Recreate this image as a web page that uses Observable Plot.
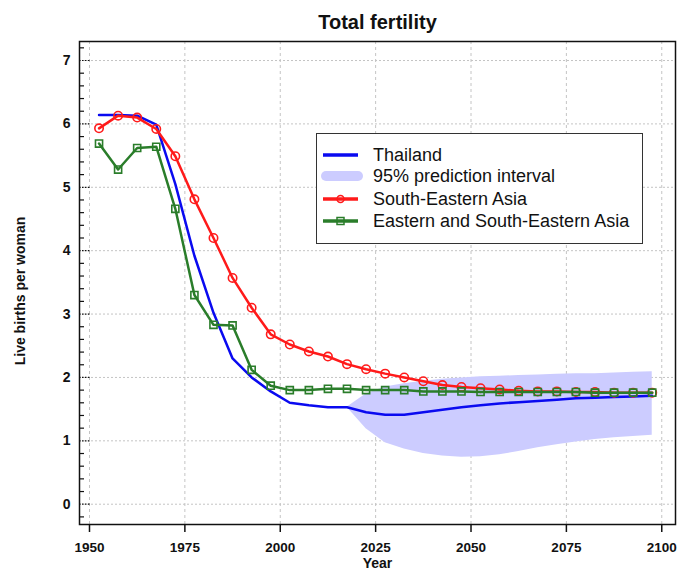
<!DOCTYPE html>
<html>
<head>
<meta charset="utf-8">
<script src="https://cdn.jsdelivr.net/npm/d3@7"></script>
<script src="https://cdn.jsdelivr.net/npm/@observablehq/plot@0.6"></script>
<style>
  html, body { margin: 0; padding: 0; background: #fff; }
  #wrap { position: relative; width: 677px; height: 571px; font-family: Arial, "Liberation Sans", sans-serif; }
  #legend { position: absolute; left: 316px; top: 133px; width: 327px; height: 111px; border: 1.5px solid #333; background: #fff; box-sizing: border-box; font-size: 18px; color: #111; }
  .row { position: absolute; left: 0; height: 20px; display: flex; align-items: center; }
  .row svg { margin-left: 4px; }
  .row span { position: absolute; left: 56px; white-space: nowrap; }
</style>
</head>
<body>
<div id="wrap"></div>
<script>
// ---- data ----
const years = [1952.5, 1957.5, 1962.5, 1967.5, 1972.5, 1977.5, 1982.5, 1987.5, 1992.5, 1997.5,
               2002.5, 2007.5, 2012.5, 2017.5, 2022.5, 2027.5, 2032.5, 2037.5, 2042.5, 2047.5,
               2052.5, 2057.5, 2062.5, 2067.5, 2072.5, 2077.5, 2082.5, 2087.5, 2092.5, 2097.5];
const thailand = [6.14, 6.14, 6.13, 5.99, 5.05, 3.92, 3.02, 2.30, 2.00, 1.78,
                  1.60, 1.56, 1.53, 1.53, 1.45, 1.41, 1.41, 1.45, 1.49, 1.53,
                  1.56, 1.59, 1.61, 1.63, 1.65, 1.67, 1.68, 1.69, 1.70, 1.71];
const seAsia = [5.93, 6.13, 6.10, 5.92, 5.49, 4.81, 4.20, 3.57, 3.10, 2.68,
                2.52, 2.41, 2.33, 2.21, 2.13, 2.06, 2.00, 1.94, 1.88, 1.85,
                1.83, 1.81, 1.79, 1.78, 1.78, 1.77, 1.77, 1.76, 1.76, 1.76];
const eseAsia = [5.69, 5.28, 5.62, 5.64, 4.66, 3.30, 2.83, 2.82, 2.12, 1.87,
                 1.80, 1.80, 1.82, 1.82, 1.80, 1.80, 1.80, 1.78, 1.78, 1.78,
                 1.77, 1.77, 1.77, 1.77, 1.77, 1.77, 1.76, 1.76, 1.76, 1.76];
const piYears = [2017.5, 2022.5, 2027.5, 2032.5, 2037.5, 2042.5, 2047.5, 2052.5, 2057.5,
                 2062.5, 2067.5, 2072.5, 2077.5, 2082.5, 2087.5, 2092.5, 2097.5];
const piLow  = [1.53, 1.19, 0.97, 0.87, 0.80, 0.76, 0.74, 0.75, 0.78,
                0.83, 0.89, 0.94, 0.98, 1.02, 1.05, 1.07, 1.09];
const piHigh = [1.53, 1.74, 1.85, 1.90, 1.94, 1.97, 1.99, 2.01, 2.02,
                2.03, 2.04, 2.05, 2.06, 2.06, 2.07, 2.08, 2.09];
const xTicks = [1950, 1975, 2000, 2025, 2050, 2075, 2100];
const yTicks = [0, 1, 2, 3, 4, 5, 6, 7];
const yMinor = [-0.2, 0.2, 0.4, 0.6, 0.8, 1.2, 1.4, 1.6, 1.8, 2.2, 2.4, 2.6, 2.8, 3.2, 3.4, 3.6, 3.8,
                4.2, 4.4, 4.6, 4.8, 5.2, 5.4, 5.6, 5.8, 6.2, 6.4, 6.6, 6.8, 7.2];
const seriesNames = ["Thailand", "95% prediction interval", "South-Eastern Asia", "Eastern and South-Eastern Asia"];
const titleText = "Total fertility";
const xLabel = "Year";
const yLabel = "Live births per woman";

// ---- tables ----
const rows = years.map((y, i) => ({year: y, th: thailand[i], se: seAsia[i], ese: eseAsia[i]}));
const band = piYears.map((y, i) => ({year: y, lo: piLow[i], hi: piHigh[i]}));

const BLUE = "#0a0af0", RED = "#ff1a1a", GREEN = "#2a7d2a", BAND = "#ccccff";
const W = 677, H = 571, ML = 79, MR = 2, MT = 41, MB = 47;
const innerW = W - ML - MR;

const chart = Plot.plot({
  width: W, height: H,
  marginLeft: ML, marginRight: MR, marginTop: MT, marginBottom: MB,
  style: {fontFamily: 'Arial, "Liberation Sans", sans-serif', fontSize: "14px", color: "#111", background: "#fff"},
  x: {domain: [1947.38, 2103.6]},
  y: {domain: [-0.32, 7.30]},
  marks: [
    Plot.ruleX(xTicks, {x: d => d, stroke: "#c4c4c4", strokeDasharray: "3,3"}),
    Plot.ruleY(yTicks, {y: d => d, stroke: "#c4c4c4", strokeDasharray: "2,2"}),
    Plot.areaY(band, {x: "year", y1: "lo", y2: "hi", fill: BAND}),
    Plot.line(rows, {x: "year", y: "th", stroke: BLUE, strokeWidth: 2.5}),
    Plot.line(rows, {x: "year", y: "se", stroke: RED, strokeWidth: 2.5}),
    Plot.dot(rows, {x: "year", y: "se", r: 4.2, stroke: RED, strokeWidth: 1.6, fill: "none"}),
    Plot.line(rows, {x: "year", y: "ese", stroke: GREEN, strokeWidth: 2.5}),
    Plot.dot(rows, {x: "year", y: "ese", symbol: "square", r: 4, stroke: GREEN, strokeWidth: 1.6, fill: "none"}),
    Plot.tickY(yMinor, {y: d => d, stroke: "#111", strokeWidth: 1.2, insetRight: innerW - 5}),
    Plot.tickY(yTicks, {y: d => d, stroke: "#111", strokeWidth: 1.2, strokeDasharray: "1.5,1.5", insetRight: innerW - 11}),
    Plot.frame({stroke: "#111", strokeWidth: 1.5}),
    Plot.axisX(xTicks, {tickSize: 8, tickPadding: 10, tickFormat: d => String(d), fontSize: 13.5, fontWeight: "bold", strokeWidth: 1.5, label: null}),
    Plot.axisY(yTicks, {tickSize: 0, tickPadding: 9, tickFormat: d => String(d), fontSize: 14, fontWeight: "bold", label: null}),
    Plot.text([titleText], {frameAnchor: "top", lineAnchor: "middle", dy: -19, fontSize: 20, fontWeight: "bold", text: d => d}),
    Plot.text([xLabel], {frameAnchor: "bottom", lineAnchor: "middle", dy: 39, fontSize: 14, fontWeight: "bold", text: d => d}),
    Plot.text([yLabel], {frameAnchor: "left", lineAnchor: "middle", textAnchor: "middle", dx: -59, dy: 8, rotate: -90, fontSize: 14, fontWeight: "bold", text: d => d})
  ]
});

const wrap = document.getElementById("wrap");
wrap.appendChild(chart);

// ---- legend (HTML overlay) ----
const legend = document.createElement("div");
legend.id = "legend";
const centers = [21, 42, 65, 87];
const symbols = [
  `<line x1="2" y1="7" x2="37" y2="7" stroke="${BLUE}" stroke-width="3.5"/>`,
  `<line x1="5" y1="7" x2="37" y2="7" stroke="${BAND}" stroke-width="10" stroke-linecap="round"/>`,
  `<line x1="2" y1="7" x2="37" y2="7" stroke="${RED}" stroke-width="3.5"/><circle cx="19.5" cy="7" r="3.5" fill="none" stroke="${RED}" stroke-width="1.5"/>`,
  `<line x1="2" y1="7" x2="37" y2="7" stroke="${GREEN}" stroke-width="3.5"/><rect x="16" y="3.5" width="7" height="7" fill="none" stroke="${GREEN}" stroke-width="1.5"/>`
];
seriesNames.forEach((name, i) => {
  const r = document.createElement("div");
  r.className = "row";
  r.style.top = (centers[i] - 10) + "px";
  r.innerHTML = `<svg width="42" height="14">${symbols[i]}</svg><span>${name}</span>`;
  legend.appendChild(r);
});
wrap.appendChild(legend);
</script>
</body>
</html>
